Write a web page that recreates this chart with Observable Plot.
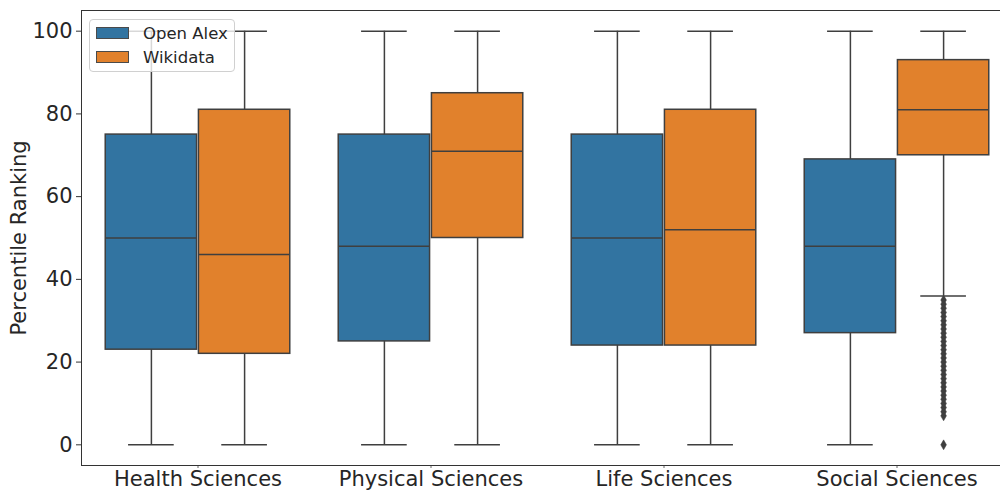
<!DOCTYPE html>
<html>
<head>
<meta charset="utf-8">
<script src="https://cdn.jsdelivr.net/npm/d3@7"></script>
<script src="https://cdn.jsdelivr.net/npm/@observablehq/plot@0.6"></script>
<style>
  html, body { margin: 0; padding: 0; background: #fff; overflow: hidden; }
  #wrap { position: relative; width: 1013px; height: 491px; }
  .legend {
    position: absolute; left: 89px; top: 19px; width: 144px; height: 51px;
    border: 1px solid #d0d0d0; border-radius: 4px; background: rgba(255,255,255,0.8);
    font-family: "DejaVu Sans", sans-serif; font-size: 16.5px; color: #262626;
  }
  .legend .item { position: absolute; left: 6px; height: 14px; display: flex; align-items: center; }
  .legend .sw { width: 33px; height: 12px; border: 1px solid #4a4a4a; box-sizing: border-box; margin-right: 14px; }
</style>
</head>
<body>
<div id="wrap"></div>
<script>
// Subject areas on the x axis
const categories = ["Health Sciences", "Physical Sciences", "Life Sciences", "Social Sciences"];
const seriesNames = ["Open Alex", "Wikidata"];
const seriesColors = ["#3274a1", "#e1812c"];

// Box statistics per subject area (percentile ranking)
const openAlexLow    = [0, 0, 0, 0];
const openAlexQ1     = [23, 25, 24, 27];
const openAlexMedian = [50, 48, 50, 48];
const openAlexQ3     = [75, 75, 75, 69];
const openAlexHigh   = [100, 100, 100, 100];

const wikidataLow    = [0, 0, 0, 36];
const wikidataQ1     = [22, 50, 24, 70];
const wikidataMedian = [46, 71, 52, 81];
const wikidataQ3     = [81, 85, 81, 93];
const wikidataHigh   = [100, 100, 100, 100];

// Outliers below the lower whisker (Wikidata, Social Sciences)
const socialWikidataOutliers = [35, 34, 33, 32, 31, 30, 29, 28, 27, 26, 25, 24, 23, 22, 21, 20,
  19, 18, 17, 16, 15, 14, 13, 12, 11, 10, 9, 8, 7, 0];

const yTicks = [0, 20, 40, 60, 80, 100];

// Assemble one row per box; dodge the two series within each category
const dodge = {"Open Alex": -0.2, "Wikidata": 0.2};
const halfBox = 0.196;
const halfCap = 0.098;
const stats = {
  "Open Alex": [openAlexLow, openAlexQ1, openAlexMedian, openAlexQ3, openAlexHigh],
  "Wikidata": [wikidataLow, wikidataQ1, wikidataMedian, wikidataQ3, wikidataHigh]
};
const boxes = [];
for (const s of seriesNames) {
  categories.forEach((c, i) => {
    const [lo, q1, med, q3, hi] = stats[s];
    boxes.push({category: c, series: s, pos: i + dodge[s], lo: lo[i], q1: q1[i], median: med[i], q3: q3[i], hi: hi[i]});
  });
}
const outliers = socialWikidataOutliers.map(v => ({series: "Wikidata", pos: categories.indexOf("Social Sciences") + dodge["Wikidata"], value: v}));

const edge = "#3f3f3f";

const chart = Plot.plot({
  width: 1013,
  height: 491,
  marginLeft: 81,
  marginRight: 0,
  marginTop: 10,
  marginBottom: 26,
  style: {fontFamily: "DejaVu Sans, sans-serif", fontSize: "21px", color: "#262626", background: "#fff"},
  x: {domain: [-0.5, 3.5], axis: null},
  y: {domain: [-5, 105], axis: null},
  color: {domain: seriesNames, range: seriesColors},
  marks: [
    // whiskers
    Plot.ruleX(boxes, {x: "pos", y1: "lo", y2: "hi", stroke: edge, strokeWidth: 1.5}),
    Plot.ruleY(boxes, {y: "lo", x1: d => d.pos - halfCap, x2: d => d.pos + halfCap, stroke: edge, strokeWidth: 1.5}),
    Plot.ruleY(boxes, {y: "hi", x1: d => d.pos - halfCap, x2: d => d.pos + halfCap, stroke: edge, strokeWidth: 1.5}),
    // boxes
    Plot.rect(boxes, {x1: d => d.pos - halfBox, x2: d => d.pos + halfBox, y1: "q1", y2: "q3", fill: "series", stroke: edge, strokeWidth: 1.5}),
    // medians
    Plot.ruleY(boxes, {y: "median", x1: d => d.pos - halfBox, x2: d => d.pos + halfBox, stroke: edge, strokeWidth: 1.5}),
    // fliers
    Plot.dot(outliers, {x: "pos", y: "value", symbol: "diamond", r: 3, fill: edge, stroke: edge, strokeWidth: 0.5}),
    // axes
    Plot.axisY(yTicks, {tickSize: 5, tickPadding: 4, stroke: "#333", label: null}),
    Plot.axisX([0, 1, 2, 3], {tickSize: 3, tickPadding: 3, stroke: "#666", tickFormat: i => categories[i], label: null}),
    Plot.frame({stroke: "#333", strokeWidth: 1}),
    Plot.text(["Percentile Ranking"], {frameAnchor: "left", textAnchor: "middle", dx: -62, rotate: -90, fontSize: 21, fill: "#262626"})
  ]
});

const wrap = document.getElementById("wrap");
wrap.appendChild(chart);

// Legend box, top left over the plot area
const legend = document.createElement("div");
legend.className = "legend";
seriesNames.forEach((s, i) => {
  const item = document.createElement("div");
  item.className = "item";
  item.style.top = (6 + i * 24) + "px";
  const sw = document.createElement("span");
  sw.className = "sw";
  sw.style.background = seriesColors[i];
  const label = document.createElement("span");
  label.textContent = s;
  item.appendChild(sw);
  item.appendChild(label);
  legend.appendChild(item);
});
wrap.appendChild(legend);
</script>
</body>
</html>
